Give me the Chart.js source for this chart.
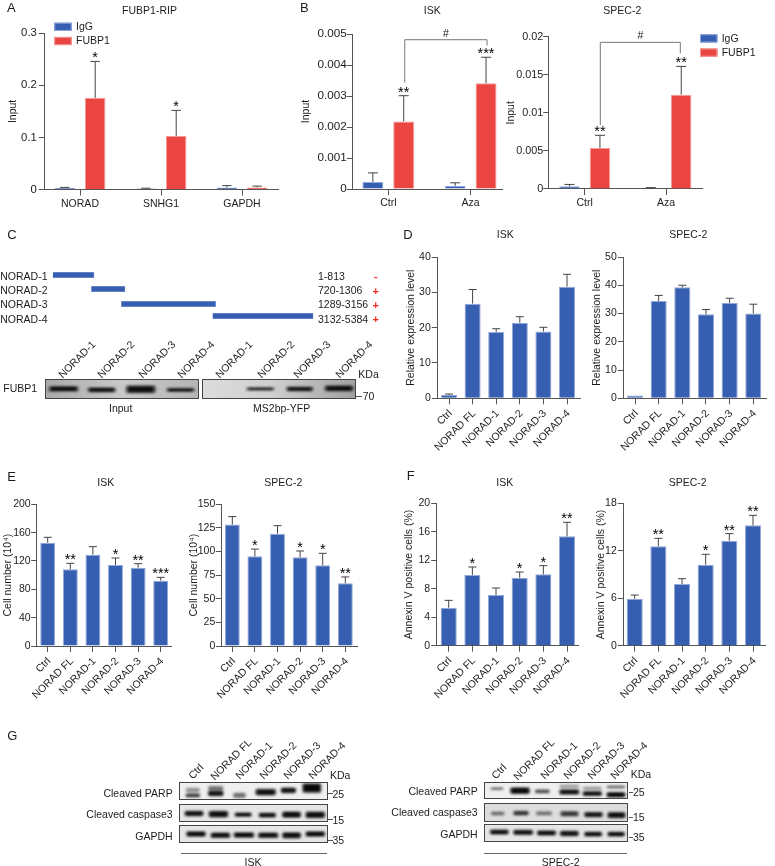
<!DOCTYPE html>
<html><head><meta charset="utf-8">
<script src="https://cdn.jsdelivr.net/npm/chart.js@4"></script>
<style>
html,body{margin:0;padding:0;background:#fff;width:775px;height:866px;overflow:hidden}
#page{position:relative;width:775px;height:866px;overflow:hidden}
#page canvas.full{position:absolute;left:0;top:0}
.t{position:absolute;white-space:nowrap;line-height:1;font-family:"Liberation Sans",Arial,sans-serif;color:#1c1c1c}
</style></head><body><div id="page"></div>
<script>
/* ---------- data ---------- */
const ripCats=['NORAD','SNHG1','GAPDH'];
const ripIgG=[0.003,0.002,0.004], ripIgGTop=[0.004,0.0025,0.0075];
const ripFUBP=[0.176,0.103,0.004], ripFUBPTop=[0.246,0.152,0.0065];
const ripStars=['*','*',''];
const azaCats=['Ctrl','Aza'];
const iskIgG=[0.000226,0.0001], iskIgGTop=[0.00052,0.0002];
const iskFUBP=[0.00218,0.00341], iskFUBPTop=[0.00301,0.00425];
const iskStars=['**','***'];
const specIgG=[0.00035,0.0001], specIgGTop=[0.0006,0.00018];
const specFUBP=[0.00538,0.01239], specFUBPTop=[0.00705,0.0161];
const specStars=['**','**'];
const cats=['Ctrl','NORAD FL','NORAD-1','NORAD-2','NORAD-3','NORAD-4'];
const dIsk=[0.95,26.8,18.8,21.4,18.9,31.6], dIskTop=[1.2,30.8,19.7,23.1,20.1,35.1];
const dSpec=[1,34.4,39.3,29.7,33.7,30], dSpecTop=[1,36.4,40,31.4,35.4,33.3];
const eIsk=[145.9,108.2,128.9,114.4,110.6,92.2], eIskTop=[153.4,116.7,140.2,124.2,116.2,96.9];
const eIskStars=['','**','','*','**','***'];
const eSpec=[128.5,94.9,118.9,93.9,85.4,66.4], eSpecTop=[137,102.6,127.4,100.6,98.1,73.1];
const eSpecStars=['','*','','*','*','**'];
const fIsk=[5.34,9.93,7.12,9.55,10.02,15.36], fIskTop=[6.37,11.05,8.1,10.35,11.24,17.33];
const fIskStars=['','*','','*','*','**'];
const fSpec=[5.94,12.56,7.8,10.24,13.28,15.22], fSpecTop=[6.4,13.57,8.47,11.55,14.17,16.48];
const fSpecStars=['','**','','*','**','**'];
const fragNames=['NORAD-1','NORAD-2','NORAD-3','NORAD-4'];
const fragRanges=['1-813','720-1306','1289-3156','3132-5384'];
const fragSigns=['-','+','+','+'];
const fragStart=[158,274,364,638], fragEnd=[282,375,647,940], fragRow=[150,192,237,273];
/* blot bands: [left, right, top, bottom, darkness] */
const cInput=[[143,233,482,498,.95],[260,345,486,500,.9],[375,465,480,503,.95],[497,582,488,499,.85]];
const cMs2=[[735,820,485,495,.7],[855,937,484,497,.88],[970,1058,480,497,.95]];
const gIskParp=[[553,598,290,305,.28],[553,598,308,320,.6],[620,668,285,300,.4],[620,668,300,316,.92],[695,735,305,322,.4],[762,825,294,314,.95],[838,885,290,307,.92],[903,960,276,306,1]];
const gIskCasp=[[550,608,360,376,.95],[622,682,360,380,.97],[700,752,365,378,.9],[772,825,366,380,.9],[842,900,362,381,.96],[912,972,362,382,.97]];
const gIskGapdh=[[555,615,422,438,.95],[628,688,426,442,.95],[697,760,425,441,.95],[770,832,426,442,.95],[842,900,425,443,.95],[912,972,422,438,.95]];
const gSpecParp=[[300,338,290,298,.4],[358,418,290,310,1],[432,478,296,308,.5],[505,567,282,292,.25],[505,567,296,312,.88],[575,635,288,298,.25],[575,635,302,316,.9],[647,705,285,293,.4],[647,705,304,320,1]];
const gSpecCasp=[[300,342,363,375,.38],[367,415,361,375,.65],[435,485,362,375,.35],[508,565,362,378,.65],[580,637,365,380,.9],[650,705,365,383,.97]];
const gSpecGapdh=[[297,355,417,432,.95],[367,428,418,433,.95],[438,497,420,435,.95],[507,565,421,437,.95],[580,635,424,438,.93],[650,703,424,438,.93]];

/* ---------- styles ---------- */
const FF='"Liberation Sans",Arial,sans-serif';
const INK='#1c1c1c', AXIS='#555', BLUE='#375fb1', RED='#ea4540', BLUEB='#93a9d9', REDB='#f39a96';
const page=document.getElementById('page');
Chart.defaults.font.family=FF;

function fullCanvas(){const c=document.createElement('canvas');c.className='full';c.width=775;c.height=866;c.style.width='775px';c.style.height='866px';page.appendChild(c);return c;}
function txt(s,x,y,o={}){const e=document.createElement('div');e.className='t';e.textContent=s;
  const size=o.size||10.5,al=o.align||'left';const tx=al==='center'?'-50%':al==='right'?'-100%':'0';
  e.style.cssText+=`left:${x}px;top:${y}px;font-size:${size}px;transform:translate(${tx},-50%)${o.rot?` rotate(${o.rot}deg)`:''};transform-origin:0 50%;`;
  if(o.color)e.style.color=o.color;if(o.bold)e.style.fontWeight='bold';page.appendChild(e);}
function rule(x,y,w,h,col){const e=document.createElement('div');e.style.cssText=`position:absolute;left:${x}px;top:${y}px;width:${w}px;height:${h}px;background:${col||'#555'}`;page.appendChild(e);}

const panelMarks={id:'panelMarks',
  afterDatasetsDraw(ch,a,o){const g=ch.ctx,ys=ch.scales.y,xs=ch.scales.x;g.save();
    ch.data.datasets.forEach((ds,i)=>{const m=ch.getDatasetMeta(i);
      m.data.forEach((b,k)=>{const top=ds.tops[k];const yT=ys.getPixelForValue(top),yB=ys.getPixelForValue(ds.data[k].y);
        if(top>ds.data[k].y){g.strokeStyle='#444';g.lineWidth=1;g.beginPath();g.moveTo(b.x,yB);g.lineTo(b.x,yT);g.moveTo(b.x-o.cap,yT);g.lineTo(b.x+o.cap,yT);g.stroke();}
        const st=ds.stars&&ds.stars[k];
        if(st){g.fillStyle='#000';g.font='14.5px '+FF;g.textAlign='center';g.textBaseline='alphabetic';g.fillText(st,b.x,yT+1);}
      });});
    (o.brackets||[]).forEach(r=>{const x1=xs.getPixelForValue(r.x1),x2=xs.getPixelForValue(r.x2),y=ys.getPixelForValue(r.y),a1=ys.getPixelForValue(r.a),a2=ys.getPixelForValue(r.b);
      g.strokeStyle='#777';g.lineWidth=1;g.beginPath();g.moveTo(x1,a1);g.lineTo(x1,y);g.lineTo(x2,y);g.lineTo(x2,a2);g.stroke();
      g.fillStyle='#111';g.font='10.5px '+FF;g.textAlign='center';g.textBaseline='alphabetic';g.fillText('#',(x1+x2)/2,y-3);});
    if(o.title){g.fillStyle=INK;g.font='10.5px '+FF;g.textAlign='center';g.textBaseline='middle';g.fillText(o.title,o.titleAt[0],o.titleAt[1]);}
    if(o.legend){ch.data.datasets.forEach((ds,i)=>{const[x,y]=o.legend;const yy=y+i*14.2;
      g.fillStyle=ds.backgroundColor;g.fillRect(x,yy,17.4,8.2);g.strokeStyle=ds.borderColor;g.lineWidth=1;g.strokeRect(x+.5,yy+.5,16.4,7.2);
      g.fillStyle=INK;g.font='10.5px '+FF;g.textAlign='left';g.textBaseline='middle';g.fillText(ds.label,x+21.7,yy+4.4);});}
    g.restore();}};

function barPanel(p){
  const [L,T,R,B]=p.plot; const yW=L-p.yTitleX+6.3, xH=70;
  const xMin=(L-p.tick0)/p.step, xMax=(R-p.tick0)/p.step;
  const datasets=p.series.map(s=>({label:s.label,data:s.values.map((v,i)=>({x:i,y:v})),tops:s.tops,stars:s.stars,
    backgroundColor:s.color,borderColor:s.border,borderWidth:1,categoryPercentage:p.catPct,barPercentage:p.barPct}));
  new Chart(fullCanvas(),{type:'bar',data:{labels:p.cats,datasets},plugins:[panelMarks],options:{
    responsive:false,animation:false,devicePixelRatio:1,
    layout:{autoPadding:false,padding:{left:L-yW,top:T,right:775-R,bottom:866-B-xH}},
    plugins:{legend:{display:false},tooltip:{enabled:false},title:{display:false},
      panelMarks:{cap:p.cap,title:p.title,titleAt:p.titleAt,brackets:p.brackets,legend:p.legend}},
    scales:{
      x:{type:'linear',offset:false,min:xMin,max:xMax,
        afterBuildTicks(a){a.ticks=p.cats.map((c,i)=>({value:i}));},
        afterFit(a){a.height=xH;},
        border:{display:true,color:AXIS,width:1},
        grid:{display:true,offset:false,drawOnChartArea:false,drawTicks:true,tickLength:6,color:AXIS},
        ticks:{autoSkip:false,padding:p.rot?p.xPad:2,labelOffset:p.rot?1.5:0,maxRotation:p.rot||0,minRotation:p.rot||0,color:INK,font:{size:10.5,family:FF},callback:v=>p.cats[v]}},
      y:{type:'linear',min:0,max:p.yMax,
        afterBuildTicks(a){a.ticks=p.yTicks.map(v=>({value:v}));},
        afterFit(a){a.width=yW;},
        border:{display:true,color:AXIS,width:1},
        grid:{display:true,drawOnChartArea:false,drawTicks:true,tickLength:5.5,color:AXIS},
        title:{display:true,text:p.yTitle,color:INK,font:{size:10.5,family:FF},padding:0},
        ticks:{padding:p.yPad,color:INK,font:{size:p.tickFont,family:FF},callback:v=>String(v)}}
    }}});
}
const two=(a,at,as,b,bt,bs)=>[{label:'IgG',values:a,tops:at,stars:as,color:BLUE,border:BLUEB},{label:'FUBP1',values:b,tops:bt,stars:bs,color:RED,border:REDB}];
const one=(v,t,s)=>[{label:'Value',values:v,tops:t,stars:s,color:BLUE,border:BLUEB}];

barPanel({plot:[44.3,33.3,278,189.5],yMax:.3,yTicks:[0,.1,.2,.3],yTitle:'Input',yTitleX:12.7,tick0:80,step:81,cats:ripCats,tickFont:11.3,yPad:2,
  series:two(ripIgG,ripIgGTop,null,ripFUBP,ripFUBPTop,ripStars),catPct:.75,barPct:.675,cap:4.7,title:'FUBP1-RIP',titleAt:[149.5,11],legend:[54.3,22.7]});
barPanel({plot:[352.3,34,502.7,189],yMax:.005,yTicks:[0,.001,.002,.003,.004,.005],yTitle:'Input',yTitleX:306.5,tick0:388.3,step:82.3,cats:azaCats,tickFont:11.7,yPad:0,
  series:two(iskIgG,iskIgGTop,null,iskFUBP,iskFUBPTop,iskStars),catPct:.75,barPct:.68,cap:5,title:'ISK',titleAt:[432.3,11.5],
  brackets:[{x1:.2,x2:1.2,y:.004816,a:.00343,b:.00463}]});
barPanel({plot:[548.7,36.7,702.7,189],yMax:.02,yTicks:[0,.005,.01,.015,.02],yTitle:'Input',yTitleX:510.7,tick0:584.7,step:81.3,cats:azaCats,tickFont:10.8,yPad:0,
  series:two(specIgG,specIgGTop,null,specFUBP,specFUBPTop,specStars),catPct:.75,barPct:.67,cap:5,title:'SPEC-2',titleAt:[622.3,11.5],legend:[700,34.3],
  brackets:[{x1:.192,x2:1.176,y:.01926,a:.0084,b:.0178}]});

barPanel({plot:[437.3,257,580,398.3],yMax:40,yTicks:[0,10,20,30,40],yTitle:'Relative expression level',yTitleX:410.7,tick0:449,step:23.6,cats,rot:45,xPad:3,tickFont:10.5,yPad:1,
  series:one(dIsk,dIskTop),catPct:1,barPct:.68,cap:4,title:'ISK',titleAt:[505.3,235]});
barPanel({plot:[623.3,257,766,398.3],yMax:50,yTicks:[0,10,20,30,40,50],yTitle:'Relative expression level',yTitleX:597.3,tick0:635,step:23.66,cats,rot:45,xPad:3,tickFont:10.5,yPad:1,
  series:one(dSpec,dSpecTop),catPct:1,barPct:.68,cap:4,title:'SPEC-2',titleAt:[688.3,235]});

barPanel({plot:[36.7,504.3,171.7,646],yMax:200,yTicks:[0,40,80,120,160,200],yTitle:'Cell number (10⁴)',yTitleX:8.3,tick0:47.7,step:22.6,cats,rot:45,xPad:3,tickFont:10.5,yPad:.5,
  series:one(eIsk,eIskTop,eIskStars),catPct:1,barPct:.66,cap:4,title:'ISK',titleAt:[105.7,483.3]});
barPanel({plot:[221.3,504.3,357.3,646],yMax:150,yTicks:[0,25,50,75,100,125,150],yTitle:'Cell number (10⁴)',yTitleX:194,tick0:232.3,step:22.6,cats,rot:45,xPad:3,tickFont:10.5,yPad:.5,
  series:one(eSpec,eSpecTop,eSpecStars),catPct:1,barPct:.66,cap:4,title:'SPEC-2',titleAt:[283.3,483.3]});
barPanel({plot:[436.7,503.3,578.3,645.7],yMax:20,yTicks:[0,4,8,12,16,20],yTitle:'Annexin V positive cells (%)',yTitleX:409,tick0:448.7,step:23.66,cats,rot:45,xPad:3,tickFont:10.5,yPad:1,
  series:one(fIsk,fIskTop,fIskStars),catPct:1,barPct:.68,cap:4,title:'ISK',titleAt:[504.7,482.7]});
barPanel({plot:[623.3,503.3,765,645.7],yMax:18,yTicks:[0,6,12,18],yTitle:'Annexin V positive cells (%)',yTitleX:601,tick0:634.7,step:23.66,cats,rot:45,xPad:3,tickFont:10.5,yPad:1,
  series:one(fSpec,fSpecTop,fSpecStars),catPct:1,barPct:.68,cap:4,title:'SPEC-2',titleAt:[687.7,482.7]});

/* panel C fragment map: floating horizontal bars */
new Chart(fullCanvas(),{type:'bar',data:{labels:fragNames,datasets:[{label:'Fragments',
    data:fragStart.map((s,i)=>({x:[s,fragEnd[i]],y:fragRow[i]})),backgroundColor:BLUE,borderColor:BLUEB,borderWidth:.6,borderSkipped:false,barThickness:5.4}]},
  options:{indexAxis:'y',responsive:false,animation:false,devicePixelRatio:1,
    layout:{autoPadding:false,padding:{left:52.7,right:775-313.3,top:225+130/3,bottom:866-(225+290/3)}},
    plugins:{legend:{display:false},tooltip:{enabled:false}},
    scales:{x:{type:'linear',display:false,offset:false,min:158,max:940},y:{type:'linear',display:false,offset:false,min:130,max:290,reverse:true}}}});

/* blot strips: floating bars on hidden scales, softened like film */
function strip(ox,oy,xr,yr,rows,bg){
  const w=(xr[1]-xr[0])/3,h=(yr[1]-yr[0])/3;
  const d=document.createElement('div');
  d.style.cssText=`position:absolute;left:${ox+xr[0]/3}px;top:${oy+yr[0]/3}px;width:${w}px;height:${h}px;box-sizing:border-box;border:1px solid #444;overflow:hidden;background:${bg}`;
  const c=document.createElement('canvas');c.width=Math.round(w);c.height=Math.round(h);c.style.cssText='display:block;filter:blur(1px)';
  d.appendChild(c);page.appendChild(d);
  const datasets=[];
  rows.forEach(([a,b,t,u,k])=>{const wd=(b-a)/3,mid=(a+b)/2,ym=(t+u)/2,ht=u-t;
    datasets.push({data:[{x:mid,y:[t,u]}],grouped:false,barThickness:wd,backgroundColor:`rgba(10,10,10,${k*.6})`,borderRadius:3,borderSkipped:false,borderWidth:0});
    datasets.push({data:[{x:mid,y:[ym-ht*.32,ym+ht*.32]}],grouped:false,barThickness:wd*.82,backgroundColor:`rgba(5,5,5,${k})`,borderRadius:2,borderSkipped:false,borderWidth:0});});
  new Chart(c,{type:'bar',data:{datasets},options:{responsive:false,animation:false,devicePixelRatio:1,layout:{padding:0,autoPadding:false},
    plugins:{legend:{display:false},tooltip:{enabled:false}},
    scales:{x:{type:'linear',display:false,offset:false,min:xr[0],max:xr[1]},y:{type:'linear',display:false,offset:false,reverse:true,min:yr[0],max:yr[1]}}}});
}
const BG1='linear-gradient(90deg,#a9a9a9,#c9c9c9 50%,#b5b5b5)',BG2='linear-gradient(90deg,#dcdcdc,#cfcfcf 45%,#a2a2a2)',BGW='#efefef',BGS='#e6e6e6';
strip(0,225,[135,598],[463,521],cInput,BG1);
strip(0,225,[605,1068],[463,521],cMs2,BG2);
strip(0,690,[537,983],[276,331],gIskParp,BGW);
strip(0,690,[537,983],[342,397],gIskCasp,BGS);
strip(0,690,[537,983],[406,460],gIskGapdh,BGS);
strip(390,690,[283,715],[277,328],gSpecParp,BGW);
strip(390,690,[283,715],[340,395],gSpecCasp,'#ddd');
strip(390,690,[283,715],[403,455],gSpecGapdh,BGS);

/* text of panels C and G, panel letters */
[['A',7,6.5],['B',300,6.5],['C',7.3,234.3],['D',403.3,234.3],['E',7.3,475.7],['F',406.7,475],['G',7.3,735]].forEach(([s,x,y])=>txt(s,x,y,{size:13}));
const fragY=[276,290,304.3,318.7];
fragNames.forEach((n,i)=>{txt(n,47.5,fragY[i],{align:'right'});txt(fragRanges[i],318,fragY[i]);txt(fragSigns[i],375.8,fragY[i]+(i?.5:0),{align:'center',color:'#f02a20',size:11,bold:true});});
[[60,375.7],[99,375.7],[139.5,375.7],[178.5,375.7],[217,375.7],[258.5,375.7],[295,375.7],[337,375.7]].forEach(([x,y],i)=>txt(fragNames[i%4],x,y,{rot:-45}));
txt('KDa',358.3,373.7);txt('FUBP1',3.3,388.3);rule(356,395.5,6,1);txt('70',362.7,396);txt('Input',120.7,407.7,{align:'center'});txt('MS2bp-YFP',281.7,407.7,{align:'center'});

const stripNames=['Cleaved PARP','Cleaved caspase3','GAPDH'],kda=['25','15','35'];
[792.7,813.7,836].forEach((y,i)=>txt(stripNames[i],172.7,y,{align:'right'}));
[793.7,819.7,840.3].forEach((y,i)=>{rule(328,y-.5,4.5,1);txt(kda[i],332.5,y);});
txt('KDa',330,774.7);
[[190,777],[212,778],[236.5,777],[261,777],[284.5,777],[310,777]].forEach(([x,y],i)=>txt(cats[i],x,y,{rot:-45}));
rule(181,853,145.7,1,'#666');txt('ISK',253,862,{align:'center'});
[791.3,812,833.7].forEach((y,i)=>txt(stripNames[i],477.7,y,{align:'right'}));
[792,817.3,837.3].forEach((y,i)=>{rule(628.5,y-.5,4.5,1);txt(kda[i],633,y);});
txt('KDa',630.7,773.7);
[[493,777],[515,778],[541.7,777],[565,777],[589,777],[611.7,777]].forEach(([x,y],i)=>txt(cats[i],x,y,{rot:-45}));
rule(484.3,853,142.7,1,'#666');txt('SPEC-2',560.7,862,{align:'center'});
</script></body></html>
